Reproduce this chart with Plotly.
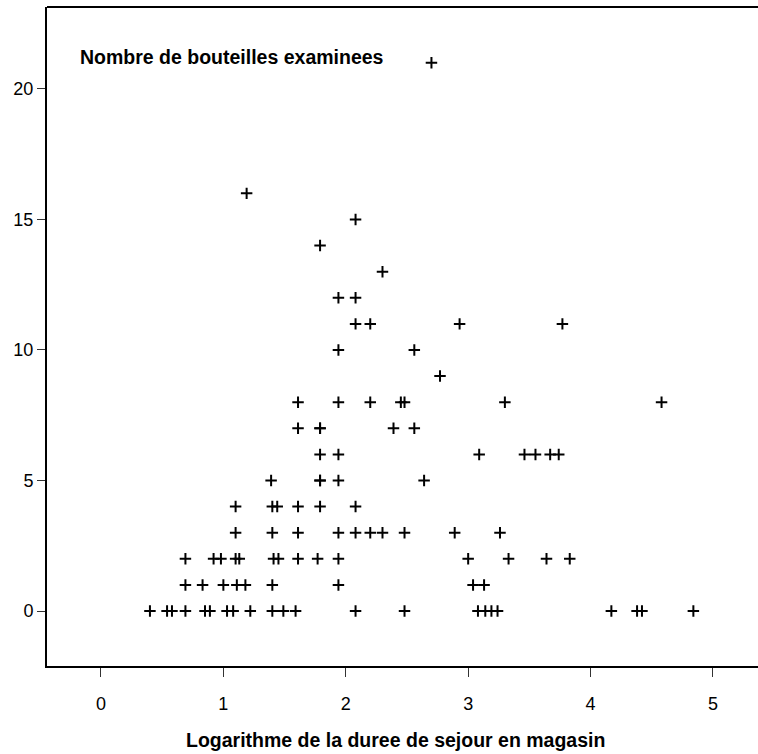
import plotly.graph_objects as go

# Log of storage duration (x) and number of bottles examined (y), grouped by y level
log_duree = [
    2.70,
    1.19,
    2.08,
    1.79,
    2.30,
    1.94, 2.08,
    2.08, 2.20, 2.93, 3.77,
    1.94, 2.56,
    2.77,
    1.61, 1.94, 2.20, 2.45, 2.48, 3.30, 4.58,
    1.61, 1.79, 1.79, 2.39, 2.56,
    1.79, 1.94, 3.09, 3.46, 3.55, 3.67, 3.74,
    1.39, 1.79, 1.79, 1.94, 2.64,
    1.10, 1.40, 1.44, 1.61, 1.79, 2.08,
    1.10, 1.40, 1.61, 1.94, 2.08, 2.20, 2.30, 2.48, 2.89, 3.26,
    0.69, 0.92, 0.98, 1.10, 1.13, 1.41, 1.45, 1.61, 1.77, 1.94, 3.00, 3.33, 3.64, 3.83,
    0.69, 0.83, 1.00, 1.11, 1.18, 1.40, 1.94, 3.04, 3.13,
    0.40, 0.54, 0.58, 0.69, 0.85, 0.89, 1.03, 1.08, 1.22, 1.40, 1.49, 1.59,
    2.08, 2.48, 3.08, 3.14, 3.19, 3.24, 4.17, 4.38, 4.42, 4.84,
]
nb_bouteilles = (
    [21]
    + [16]
    + [15]
    + [14]
    + [13]
    + [12] * 2
    + [11] * 4
    + [10] * 2
    + [9]
    + [8] * 7
    + [7] * 5
    + [6] * 7
    + [5] * 5
    + [4] * 6
    + [3] * 10
    + [2] * 14
    + [1] * 9
    + [0] * 22
)

x_ticks = [0, 1, 2, 3, 4, 5]
y_ticks = [0, 5, 10, 15, 20]

FONT = "Liberation Sans Narrow, Arial Narrow, Liberation Sans, Arial, sans-serif"

fig = go.Figure(
    go.Scatter(
        x=log_duree,
        y=nb_bouteilles,
        mode="markers",
        marker=dict(symbol="cross-thin", size=8.2, color="black",
                    line=dict(color="black", width=2)),
        hoverinfo="x+y",
    )
)

fig.update_layout(
    width=758,
    height=754,
    margin=dict(l=47, r=0, t=7, b=88),
    paper_bgcolor="white",
    plot_bgcolor="white",
    showlegend=False,
    font=dict(family=FONT, size=18, color="black"),
    xaxis=dict(
        range=[-0.441, 5.368],
        tickvals=x_ticks,
        ticktext=[str(v) for v in x_ticks],
        showgrid=False,
        zeroline=False,
        showline=True,
        linecolor="black",
        linewidth=2,
        ticks="outside",
        ticklen=9,
        tickwidth=1,
        tickcolor="#333",
        ticklabelstandoff=11,
        tickfont=dict(family=FONT, size=18),
    ),
    yaxis=dict(
        range=[-2.107, 23.14],
        tickvals=y_ticks,
        ticktext=[str(v) for v in y_ticks],
        showgrid=False,
        zeroline=False,
        showline=True,
        linecolor="black",
        linewidth=2,
        ticks="outside",
        ticklen=8,
        tickwidth=1,
        tickcolor="#333",
        ticklabelstandoff=0,
        tickfont=dict(family=FONT, size=18),
    ),
    shapes=[
        dict(type="line", xref="paper", yref="paper", x0=0, x1=1, y0=1, y1=1,
             line=dict(color="black", width=2)),
    ],
    annotations=[
        dict(text="<b>Nombre de bouteilles examinees</b>", xref="paper", yref="paper",
             x=0.0436, y=0.924, xanchor="left", yanchor="middle", showarrow=False,
             font=dict(family=FONT, size=19.5)),
        dict(text="<b>Logarithme de la duree de sejour en magasin</b>", xref="paper",
             yref="paper", x=0.4895, y=-0.1123, xanchor="center", yanchor="middle",
             showarrow=False, font=dict(family=FONT, size=19.5)),
    ],
)

fig.write_html("out.html")
